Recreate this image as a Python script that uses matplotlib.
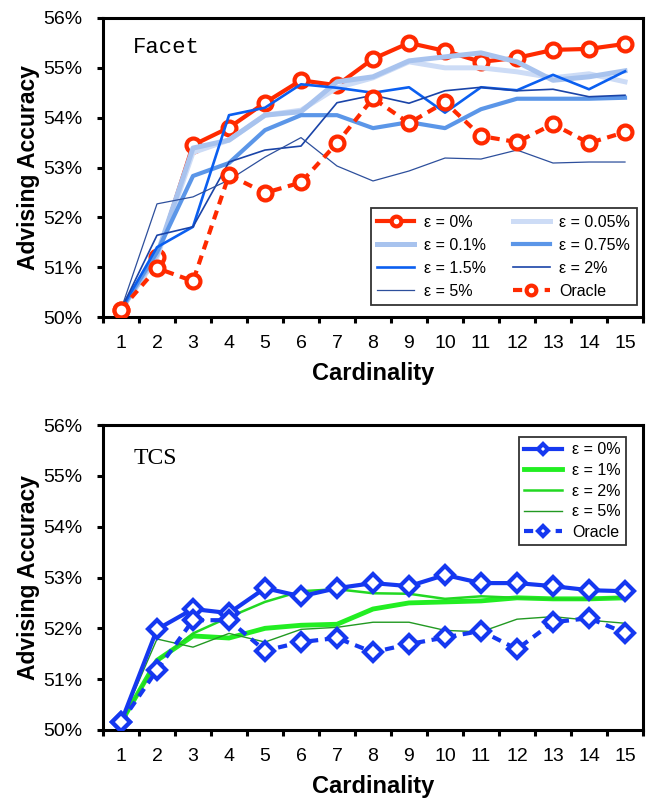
import numpy as np
import matplotlib
matplotlib.use('Agg')
import matplotlib.pyplot as plt
from matplotlib.ticker import FixedLocator, NullFormatter, FixedFormatter

plt.rcParams['font.family'] = ['Liberation Sans', 'DejaVu Sans']

cardinality = np.arange(1, 16)

# Facet panel
facet_eps0 = [50.15, 51.2, 53.45, 53.8, 54.3, 54.75, 54.65, 55.18, 55.5, 55.34, 55.12, 55.2, 55.36, 55.38, 55.48]
facet_eps005 = [50.15, 51.2, 53.3, 53.55, 54.05, 54.15, 54.6, 54.8, 55.12, 55.0, 55.0, 54.92, 54.8, 54.88, 54.72]
facet_eps01 = [50.15, 51.25, 53.39, 53.55, 54.05, 54.12, 54.72, 54.82, 55.14, 55.22, 55.3, 55.12, 54.75, 54.82, 54.94]
facet_eps075 = [50.15, 51.3, 52.83, 53.09, 53.75, 54.05, 54.05, 53.79, 53.91, 53.79, 54.17, 54.38, 54.38, 54.38, 54.4]
facet_eps15 = [50.15, 51.4, 51.81, 54.05, 54.2, 54.67, 54.6, 54.5, 54.61, 54.1, 54.61, 54.55, 54.86, 54.57, 54.93]
facet_eps2 = [50.15, 51.64, 51.81, 53.11, 53.35, 53.43, 54.3, 54.45, 54.29, 54.54, 54.61, 54.54, 54.57, 54.42, 54.45]
facet_eps5 = [50.15, 52.27, 52.41, 52.75, 53.21, 53.6, 53.03, 52.73, 52.93, 53.19, 53.17, 53.35, 53.09, 53.11, 53.11]
facet_oracle = [50.15, 50.98, 50.72, 52.85, 52.49, 52.7, 53.49, 54.39, 53.89, 54.31, 53.63, 53.51, 53.87, 53.49, 53.71]

# TCS panel
tcs_eps0 = [50.15, 51.98, 52.38, 52.3, 52.79, 52.63, 52.79, 52.89, 52.83, 53.05, 52.89, 52.89, 52.83, 52.75, 52.73]
tcs_eps1 = [50.15, 51.37, 51.85, 51.81, 52.0, 52.06, 52.08, 52.38, 52.5, 52.52, 52.54, 52.6, 52.58, 52.58, 52.6]
tcs_eps2 = [50.15, 51.35, 51.9, 52.22, 52.52, 52.73, 52.77, 52.69, 52.68, 52.58, 52.63, 52.6, 52.58, 52.57, 52.62]
tcs_eps5 = [50.15, 51.79, 51.63, 51.9, 51.73, 51.98, 52.02, 52.12, 52.12, 51.96, 51.93, 52.18, 52.23, 52.16, 52.1]
tcs_oracle = [50.15, 51.18, 52.16, 52.16, 51.56, 51.73, 51.81, 51.53, 51.69, 51.82, 51.95, 51.59, 52.12, 52.2, 51.91]

y_ticks = [50, 51, 52, 53, 54, 55, 56]
y_labels = ['50%', '51%', '52%', '53%', '54%', '55%', '56%']

RED = '#ff2a00'
BLUE = '#1538f0'

fig = plt.figure(figsize=(6.47, 8.06), dpi=100)
ax1 = fig.add_axes([103 / 647, 1 - 317 / 806, 540 / 647, 299 / 806])
ax2 = fig.add_axes([103 / 647, 1 - 730 / 806, 540 / 647, 305 / 806])


def style_axis(ax):
    ax.set_xlim(0.5, 15.5)
    ax.set_ylim(50, 56)
    ax.yaxis.set_major_locator(FixedLocator(y_ticks))
    ax.yaxis.set_major_formatter(FixedFormatter(y_labels))
    ax.xaxis.set_major_locator(FixedLocator(np.arange(0.5, 16, 1)))
    ax.xaxis.set_major_formatter(NullFormatter())
    ax.xaxis.set_minor_locator(FixedLocator(cardinality))
    ax.xaxis.set_minor_formatter(FixedFormatter([str(c) for c in cardinality]))
    ax.tick_params(axis='x', which='major', direction='out', length=4, width=2.2)
    ax.tick_params(axis='x', which='minor', length=0, pad=13, labelsize=14)
    ax.tick_params(axis='y', direction='out', length=4, width=2.2, pad=11, labelsize=14)
    for s in ax.spines.values():
        s.set_linewidth(2.2)
    ax.set_xlabel('Cardinality', fontsize=17, fontweight='bold', labelpad=7)
    ax.set_ylabel('Advising Accuracy', fontsize=16.5, fontweight='bold', labelpad=2)


# top panel
ax1.plot(cardinality, facet_eps0, color=RED, lw=3, marker='o', ms=10,
         mfc='white', mec=RED, mew=3, label='ε = 0%', zorder=3)
ax1.plot(cardinality, facet_eps005, color='#cddcf6', lw=3.6, label='ε = 0.05%', zorder=4)
ax1.plot(cardinality, facet_eps01, color='#a8c3ee', lw=3.6, label='ε = 0.1%', zorder=4)
ax1.plot(cardinality, facet_eps075, color='#5b96e8', lw=3, label='ε = 0.75%', zorder=4)
ax1.plot(cardinality, facet_eps15, color='#0b5ff0', lw=1.9, label='ε = 1.5%', zorder=4)
ax1.plot(cardinality, facet_eps2, color='#1a44a8', lw=1.2, label='ε = 2%', zorder=4)
ax1.plot(cardinality, facet_eps5, color='#2d4f9c', lw=0.9, label='ε = 5%', zorder=4)
ax1.plot(cardinality, facet_oracle, color=RED, lw=3, ls=(0, (2.2, 1.6)), marker='o', ms=10,
         mfc='white', mec=RED, mew=3, label='Oracle', zorder=5)
style_axis(ax1)
ax1.text(0.056, 0.883, 'Facet', transform=ax1.transAxes, fontsize=16,
         family='Liberation Mono', va='baseline', ha='left')
# legend fills row by row in the original
h1, l1 = ax1.get_legend_handles_labels()
order1 = [0, 2, 4, 6, 1, 3, 5, 7]
leg1 = ax1.legend([h1[i] for i in order1], [l1[i] for i in order1], ncol=2,
                  loc='lower right', bbox_to_anchor=(0.988, 0.04), borderaxespad=0,
                  fontsize=11.5, frameon=True, fancybox=False, edgecolor='black',
                  handlelength=2.3, columnspacing=1.7, handletextpad=0.6,
                  labelspacing=0.5, borderpad=0.4, markerscale=0.7)
leg1.get_frame().set_linewidth(1.3)

# bottom panel
ax2.plot(cardinality, tcs_eps1, color='#22ee22', lw=3.5, label='ε = 1%', zorder=3)
ax2.plot(cardinality, tcs_eps2, color='#22d822', lw=1.8, label='ε = 2%', zorder=3)
ax2.plot(cardinality, tcs_eps5, color='#229922', lw=1.0, label='ε = 5%', zorder=3)
ax2.plot(cardinality, tcs_eps0, color=BLUE, lw=3, marker='D', ms=9,
         mfc='white', mec=BLUE, mew=3, label='ε = 0%', zorder=4)
ax2.plot(cardinality, tcs_oracle, color=BLUE, lw=3, ls=(0, (2.2, 1.6)), marker='D', ms=9,
         mfc='white', mec=BLUE, mew=3, label='Oracle', zorder=4)
style_axis(ax2)
ax2.text(0.057, 0.872, 'TCS', transform=ax2.transAxes, fontsize=17,
         family='Liberation Serif', va='baseline', ha='left')
h2, l2 = ax2.get_legend_handles_labels()
order2 = [3, 0, 1, 2, 4]
leg2 = ax2.legend([h2[i] for i in order2], [l2[i] for i in order2],
                  loc='upper right', bbox_to_anchor=(0.969, 0.961), borderaxespad=0,
                  fontsize=11.5, frameon=True, fancybox=False, edgecolor='black',
                  handlelength=2.4, handletextpad=0.6, labelspacing=0.35,
                  borderpad=0.35, markerscale=0.6)
leg2.get_frame().set_linewidth(1.3)

fig.savefig('out.png', dpi=100)
